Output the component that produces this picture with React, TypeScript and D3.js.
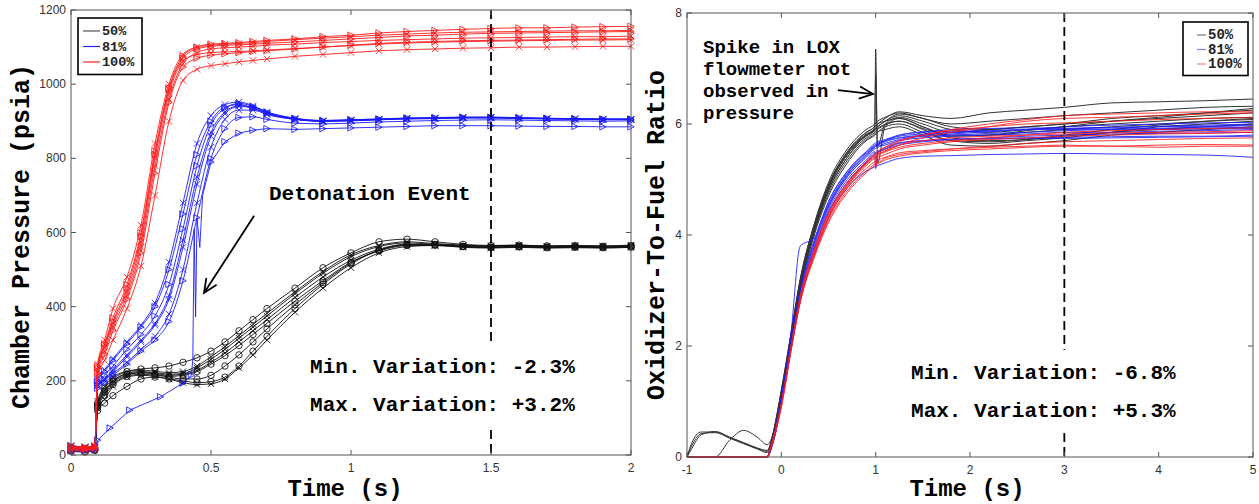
import React from 'react';
import * as d3 from 'd3';

// Left panel: chamber pressure (psia) against time (s), one row per hot-fire run
const pressTime = [0, 0.05, 0.085, 0.095, 0.12, 0.15, 0.2, 0.25, 0.3, 0.35, 0.4, 0.45, 0.5, 0.55, 0.6, 0.65, 0.7, 0.8, 0.9, 1.0, 1.1, 1.2, 1.3, 1.4, 1.5, 1.6, 1.7, 1.8, 1.9, 2.0];

const press50 = [
  [15, 12, 18, 130, 165, 195, 215, 222, 220, 215, 218, 228, 250, 275, 305, 335, 365, 425, 480, 525, 555, 568, 565, 562, 560, 562, 560, 561, 560, 562],
  [20, 18, 20, 140, 180, 205, 225, 232, 235, 240, 250, 262, 280, 305, 335, 365, 395, 450, 505, 545, 575, 582, 575, 568, 565, 566, 564, 565, 563, 565],
  [10, 8, 12, 120, 140, 160, 185, 205, 210, 205, 200, 195, 198, 210, 240, 280, 320, 395, 460, 515, 552, 568, 568, 562, 560, 561, 559, 560, 559, 560],
  [18, 15, 15, 125, 150, 185, 210, 215, 212, 205, 195, 190, 192, 205, 235, 270, 310, 385, 450, 505, 545, 562, 565, 560, 558, 560, 558, 559, 558, 560],
  [22, 20, 22, 135, 175, 200, 220, 225, 222, 218, 220, 235, 258, 285, 315, 345, 375, 435, 490, 535, 562, 572, 568, 565, 563, 565, 562, 563, 562, 564],
  [12, 10, 16, 128, 160, 190, 212, 218, 215, 212, 215, 225, 245, 268, 295, 325, 355, 415, 470, 520, 550, 565, 566, 563, 561, 563, 561, 562, 561, 563],
  [25, 22, 25, 145, 185, 210, 225, 228, 226, 222, 225, 240, 265, 292, 322, 352, 382, 440, 495, 540, 565, 575, 570, 566, 564, 566, 563, 565, 564, 566],
  [15, 14, 14, 132, 170, 198, 218, 222, 218, 210, 205, 205, 215, 240, 270, 305, 340, 405, 465, 518, 552, 566, 566, 562, 560, 562, 560, 561, 560, 562],
];
const press50Marks = ['x', 'o', 'o', 'x', 'x', 'o', 'x', 'o'];

const press81 = [
  [15, 18, 20, 185, 200, 225, 265, 305, 350, 420, 560, 730, 860, 920, 940, 935, 920, 905, 900, 902, 905, 908, 908, 910, 910, 908, 907, 906, 905, 905],
  [20, 15, 18, 195, 215, 240, 285, 325, 375, 460, 610, 780, 890, 935, 948, 940, 925, 908, 902, 904, 906, 909, 910, 911, 911, 910, 908, 907, 906, 906],
  [10, 12, 15, 190, 205, 220, 250, 285, 320, 380, 500, 680, 830, 905, 930, 930, 918, 905, 900, 901, 904, 906, 907, 909, 909, 907, 906, 905, 904, 904],
  [25, 20, 22, 200, 225, 255, 300, 345, 400, 500, 650, 810, 900, 938, 945, 935, 922, 906, 901, 903, 905, 907, 908, 910, 909, 908, 907, 906, 905, 905],
  [18, 16, 20, 188, 205, 230, 270, 310, 355, 430, 580, 750, 870, 925, 942, 938, 922, 906, 900, 902, 904, 907, 908, 909, 910, 909, 907, 906, 905, 905],
  [12, 14, 18, 180, 195, 215, 245, 280, 310, 360, 470, 640, 800, 880, 910, 912, 905, 895, 893, 895, 898, 900, 902, 903, 904, 903, 902, 901, 900, 901],
  [22, 20, 22, 205, 230, 260, 305, 350, 410, 520, 680, 840, 915, 945, 952, 942, 925, 908, 902, 904, 906, 908, 909, 911, 911, 909, 908, 907, 906, 906],
];
const press81Marks = ['x', '>', 'x', '>', 'x', '>', 'x'];

// the 81% run with the detonation event is sampled more densely
const detonationTime = [0, 0.05, 0.085, 0.095, 0.14, 0.21, 0.32, 0.4, 0.43, 0.435, 0.44, 0.445, 0.45, 0.46, 0.47, 0.5, 0.55, 0.6, 0.65, 0.7, 0.8, 0.9, 1.0, 1.1, 1.2, 1.3, 1.4, 1.5, 1.6, 1.7, 1.8, 1.9, 2.0];
const detonationPress = [15, 12, 15, 40, 73, 121, 157, 194, 215, 258, 610, 372, 640, 560, 700, 790, 845, 868, 876, 880, 878, 880, 882, 884, 886, 888, 888, 888, 887, 886, 886, 885, 885];

const press100 = [
  [20, 18, 22, 240, 300, 370, 460, 600, 820, 990, 1075, 1100, 1108, 1110, 1112, 1115, 1118, 1122, 1128, 1132, 1138, 1142, 1145, 1148, 1150, 1152, 1152, 1154, 1155, 1156],
  [15, 15, 18, 225, 280, 345, 430, 560, 780, 960, 1055, 1085, 1095, 1098, 1100, 1102, 1105, 1108, 1112, 1115, 1118, 1120, 1122, 1124, 1125, 1126, 1127, 1128, 1128, 1130],
  [22, 20, 20, 210, 255, 310, 395, 510, 700, 900, 1010, 1040, 1050, 1055, 1060, 1064, 1068, 1075, 1080, 1085, 1090, 1093, 1095, 1097, 1098, 1100, 1100, 1101, 1102, 1102],
  [18, 16, 20, 235, 295, 360, 450, 590, 810, 985, 1070, 1095, 1102, 1105, 1106, 1108, 1110, 1114, 1118, 1122, 1126, 1130, 1132, 1135, 1137, 1138, 1139, 1140, 1141, 1142],
  [12, 12, 15, 230, 290, 355, 440, 575, 800, 975, 1062, 1080, 1085, 1087, 1088, 1090, 1092, 1096, 1100, 1104, 1108, 1111, 1113, 1115, 1116, 1117, 1118, 1119, 1119, 1120],
  [25, 22, 25, 245, 310, 395, 480, 620, 840, 1000, 1080, 1100, 1105, 1108, 1110, 1112, 1115, 1120, 1124, 1128, 1132, 1135, 1138, 1140, 1141, 1142, 1143, 1144, 1144, 1145],
  [20, 20, 22, 220, 270, 335, 420, 545, 760, 950, 1045, 1070, 1078, 1082, 1085, 1088, 1090, 1095, 1100, 1105, 1110, 1113, 1115, 1117, 1118, 1119, 1120, 1121, 1122, 1122],
];
const press100Marks = ['>', 'x', 'x', '>', 'x', 'x', '>'];

const pressXTicks = [0, 0.5, 1, 1.5, 2];
const pressYTicks = [0, 200, 400, 600, 800, 1000, 1200];

// Right panel: oxidizer-to-fuel ratio against time (s)
const ofTime = [-1, -0.95, -0.85, -0.7, -0.55, -0.4, -0.25, -0.15, -0.1, 0, 0.1, 0.2, 0.35, 0.5, 0.7, 0.9, 0.99, 1.0, 1.02, 1.1, 1.25, 1.5, 1.8, 2.2, 2.6, 3.0, 3.5, 4.0, 4.5, 5.0];

const of50 = [
  [0, 0.25, 0.45, 0.45, 0.35, 0.25, 0.15, 0.1, 0.35, 1.2, 2.2, 3.2, 4.2, 4.9, 5.5, 5.85, 5.95, 5.97, 6.0, 6.1, 6.22, 6.15, 6.1, 6.2, 6.25, 6.3, 6.38, 6.4, 6.42, 6.45],
  [0, 0.2, 0.42, 0.44, 0.34, 0.24, 0.14, 0.08, 0.3, 1.1, 2.1, 3.1, 4.1, 4.8, 5.4, 5.8, 5.9, 5.92, 5.95, 6.05, 6.15, 6.05, 5.9, 5.85, 5.9, 5.95, 6.0, 6.05, 6.1, 6.12],
  [0, 0.15, 0.4, 0.46, 0.36, 0.26, 0.16, 0.12, 0.3, 1.0, 2.0, 3.0, 4.0, 4.7, 5.3, 5.7, 5.8, 5.82, 5.85, 5.95, 6.0, 5.85, 5.7, 5.65, 5.7, 5.75, 5.85, 5.9, 5.95, 6.0],
  [0, 0, 0, 0, 0.3, 0.48, 0.35, 0.22, 0.35, 1.1, 2.1, 3.1, 4.1, 4.85, 5.45, 5.8, 5.9, 5.92, 5.95, 6.05, 6.18, 6.1, 5.95, 5.9, 5.95, 6.0, 6.1, 6.15, 6.2, 6.25],
  [0, 0, 0, 0, 0, 0, 0, 0, 0.25, 1.1, 2.1, 3.1, 4.1, 4.85, 5.45, 5.8, 5.88, 7.35, 5.3, 5.95, 6.1, 5.95, 5.8, 5.8, 5.85, 5.9, 5.95, 6.0, 6.05, 6.08],
  [0, 0, 0, 0, 0, 0, 0, 0, 0.3, 1.15, 2.15, 3.15, 4.15, 4.9, 5.5, 5.85, 5.95, 5.97, 6.0, 6.05, 6.1, 5.95, 5.75, 5.7, 5.72, 5.78, 5.85, 5.95, 6.0, 6.05],
  [0, 0, 0, 0, 0, 0, 0, 0, 0.28, 1.05, 2.05, 3.05, 4.05, 4.75, 5.35, 5.72, 5.82, 5.84, 5.86, 5.9, 5.95, 5.8, 5.62, 5.6, 5.65, 5.7, 5.8, 5.85, 5.9, 5.95],
  [0, 0, 0, 0, 0, 0, 0, 0, 0.32, 1.2, 2.2, 3.2, 4.2, 4.95, 5.55, 5.9, 6.0, 6.02, 6.05, 6.12, 6.2, 6.1, 6.0, 6.05, 6.1, 6.15, 6.2, 6.25, 6.3, 6.32],
  [0, 0, 0, 0, 0, 0, 0, 0, 0.3, 1.12, 2.12, 3.12, 4.12, 4.88, 5.48, 5.82, 5.92, 6.9, 5.6, 6.0, 6.12, 6.0, 5.85, 5.9, 5.95, 6.0, 6.05, 6.1, 6.15, 6.2],
  [0, 0, 0, 0, 0, 0, 0, 0, 0.27, 1.05, 2.05, 3.05, 4.05, 4.8, 5.4, 5.75, 5.85, 5.87, 5.9, 5.98, 6.05, 5.9, 5.7, 5.68, 5.72, 5.8, 5.9, 5.98, 6.05, 6.1],
  [0, 0, 0, 0, 0, 0, 0, 0, 0.3, 1.15, 2.15, 3.15, 4.12, 4.85, 5.45, 5.78, 5.88, 5.9, 5.92, 6.0, 6.05, 5.92, 5.78, 5.8, 5.88, 5.95, 6.05, 6.12, 6.2, 6.28],
];

const of81 = [
  [0, 0, 0, 0, 0, 0, 0, 0, 0.2, 1.0, 2.0, 2.95, 3.85, 4.5, 5.05, 5.4, 5.55, 5.56, 5.58, 5.62, 5.7, 5.75, 5.78, 5.8, 5.82, 5.85, 5.85, 5.87, 5.88, 5.9],
  [0, 0, 0, 0, 0, 0, 0, 0, 0.18, 0.95, 1.9, 2.8, 3.65, 4.3, 4.85, 5.15, 5.23, 5.24, 5.25, 5.3, 5.38, 5.42, 5.43, 5.45, 5.46, 5.47, 5.46, 5.45, 5.44, 5.4],
  [0, 0, 0, 0, 0, 0, 0, 0, 0.22, 1.05, 2.05, 3.0, 3.9, 4.55, 5.1, 5.45, 5.6, 5.62, 5.64, 5.7, 5.78, 5.82, 5.85, 5.88, 5.9, 5.92, 5.93, 5.95, 5.96, 5.98],
  [0, 0, 0, 0, 0, 0, 0, 0, 0.2, 1.0, 2.0, 2.9, 3.8, 4.45, 5.0, 5.35, 5.5, 5.2, 5.5, 5.55, 5.62, 5.68, 5.72, 5.75, 5.78, 5.8, 5.82, 5.83, 5.84, 5.85],
  [0, 0, 0, 0, 0, 0, 0, 0, 0.25, 1.1, 2.2, 3.8, 3.95, 4.6, 5.15, 5.5, 5.65, 5.66, 5.68, 5.72, 5.8, 5.85, 5.87, 5.88, 5.9, 5.9, 5.91, 5.92, 5.93, 5.94],
  [0, 0, 0, 0, 0, 0, 0, 0, 0.2, 0.98, 1.95, 2.9, 3.75, 4.4, 4.95, 5.3, 5.45, 5.46, 5.48, 5.55, 5.65, 5.7, 5.72, 5.74, 5.75, 5.76, 5.77, 5.78, 5.78, 5.8],
  [0, 0, 0, 0, 0, 0, 0, 0, 0.22, 1.05, 2.05, 3.0, 3.9, 4.6, 5.15, 5.5, 5.62, 5.63, 5.65, 5.7, 5.75, 5.78, 5.8, 5.83, 5.85, 5.88, 5.9, 5.92, 5.95, 5.97],
  [0, 0, 0, 0, 0, 0, 0, 0, 0.2, 1.0, 2.0, 2.95, 3.85, 4.5, 5.05, 5.42, 5.58, 5.6, 5.6, 5.65, 5.72, 5.78, 5.82, 5.86, 5.9, 5.95, 5.98, 6.0, 6.02, 6.03],
  [0, 0, 0, 0, 0, 0, 0, 0, 0.21, 1.02, 2.02, 2.97, 3.88, 4.52, 5.08, 5.45, 5.6, 5.61, 5.62, 5.68, 5.75, 5.8, 5.84, 5.87, 5.9, 5.92, 5.94, 5.96, 5.98, 6.0],
  [0, 0, 0, 0, 0, 0, 0, 0, 0.19, 0.97, 1.95, 2.88, 3.75, 4.4, 4.95, 5.32, 5.48, 5.49, 5.5, 5.58, 5.66, 5.7, 5.72, 5.73, 5.74, 5.74, 5.75, 5.76, 5.77, 5.78],
  [0, 0, 0, 0, 0, 0, 0, 0, 0.23, 1.04, 2.05, 3.0, 3.9, 4.55, 5.12, 5.48, 5.6, 5.61, 5.63, 5.7, 5.8, 5.86, 5.9, 5.92, 5.93, 5.92, 5.9, 5.9, 5.91, 5.92],
];

const of100 = [
  [0, 0, 0, 0, 0, 0, 0, 0, 0.25, 0.95, 1.95, 2.85, 3.7, 4.35, 4.9, 5.3, 5.45, 5.46, 5.48, 5.55, 5.68, 5.8, 5.9, 6.0, 6.08, 6.15, 6.18, 6.2, 6.22, 6.22],
  [0, 0, 0, 0, 0, 0, 0, 0, 0.22, 0.9, 1.9, 2.8, 3.65, 4.3, 4.85, 5.2, 5.32, 5.33, 5.35, 5.4, 5.48, 5.52, 5.55, 5.58, 5.6, 5.62, 5.6, 5.62, 5.63, 5.62],
  [0, 0, 0, 0, 0, 0, 0, 0, 0.25, 0.95, 1.95, 2.85, 3.7, 4.35, 4.9, 5.28, 5.42, 5.2, 5.45, 5.5, 5.58, 5.65, 5.7, 5.75, 5.8, 5.85, 5.88, 5.9, 5.92, 5.93],
  [0, 0, 0, 0, 0, 0, 0, 0, 0.24, 0.93, 1.92, 2.82, 3.68, 4.32, 4.88, 5.25, 5.38, 5.39, 5.4, 5.45, 5.55, 5.62, 5.68, 5.72, 5.75, 5.78, 5.8, 5.82, 5.83, 5.85],
  [0, 0, 0, 0, 0, 0, 0, 0, 0.26, 0.97, 1.97, 2.9, 3.75, 4.4, 4.95, 5.32, 5.45, 5.46, 5.5, 5.58, 5.7, 5.8, 5.88, 5.95, 6.0, 6.02, 6.05, 6.08, 6.1, 6.12],
  [0, 0, 0, 0, 0, 0, 0, 0, 0.23, 0.92, 1.9, 2.8, 3.62, 4.25, 4.8, 5.15, 5.28, 5.29, 5.3, 5.38, 5.45, 5.5, 5.55, 5.6, 5.65, 5.68, 5.7, 5.72, 5.74, 5.75],
  [0, 0, 0, 0, 0, 0, 0, 0, 0.25, 0.96, 1.96, 2.88, 3.72, 4.38, 4.92, 5.3, 5.42, 5.43, 5.45, 5.52, 5.62, 5.7, 5.75, 5.78, 5.8, 5.82, 5.84, 5.85, 5.86, 5.88],
  [0, 0, 0, 0, 0, 0, 0, 0, 0.24, 0.94, 1.94, 2.84, 3.7, 4.34, 4.9, 5.28, 5.4, 5.41, 5.43, 5.5, 5.62, 5.75, 5.85, 5.95, 6.05, 6.1, 6.12, 6.15, 6.18, 6.2],
  [0, 0, 0, 0, 0, 0, 0, 0, 0.22, 0.9, 1.88, 2.78, 3.6, 4.22, 4.76, 5.12, 5.25, 5.26, 5.28, 5.35, 5.42, 5.48, 5.52, 5.55, 5.58, 5.6, 5.6, 5.58, 5.6, 5.6],
];

const ofXTicks = [-1, 0, 1, 2, 3, 4, 5];
const ofYTicks = [0, 2, 4, 6, 8];

const legendLabels = ['50%', '81%', '100%'];

const mono = "'Courier New', 'Liberation Mono', monospace";
const sans = "'Liberation Sans', Arial, Helvetica, sans-serif";
const lineColors = ['#111111', '#1a1aff', '#ff1a1a'];

type Scale = d3.ScaleLinear<number, number>;

function Marker({ kind, cx, cy, color }: { kind: string; cx: number; cy: number; color: string }) {
  const s = 3.2;
  if (kind === 'o') return <circle cx={cx} cy={cy} r={s} fill="none" stroke={color} strokeWidth={0.85} />;
  if (kind === 'x')
    return (
      <path
        d={`M${cx - s},${cy - s}L${cx + s},${cy + s}M${cx - s},${cy + s}L${cx + s},${cy - s}`}
        stroke={color}
        strokeWidth={0.85}
      />
    );
  return (
    <path d={`M${cx - s},${cy - s}L${cx + s},${cy}L${cx - s},${cy + s}Z`} fill="none" stroke={color} strokeWidth={0.85} />
  );
}

function Frame({ x, y, xTicks, yTicks }: { x: Scale; y: Scale; xTicks: number[]; yTicks: number[] }) {
  const [x0, x1] = x.range();
  const [y0, y1] = y.range();
  const c = '#555';
  return (
    <g>
      <rect x={x0} y={y1} width={x1 - x0} height={y0 - y1} fill="none" stroke={c} strokeWidth={1} />
      {xTicks.map((t) => (
        <g key={'x' + t}>
          <line x1={x(t)} x2={x(t)} y1={y0} y2={y0 - 5} stroke={c} />
          <line x1={x(t)} x2={x(t)} y1={y1} y2={y1 + 5} stroke={c} />
          <text x={x(t)} y={y0 + 17} textAnchor="middle" fontFamily={sans} fontSize={12} fill="#333">
            {t}
          </text>
        </g>
      ))}
      {yTicks.map((t) => (
        <g key={'y' + t}>
          <line x1={x0} x2={x0 + 5} y1={y(t)} y2={y(t)} stroke={c} />
          <line x1={x1} x2={x1 - 5} y1={y(t)} y2={y(t)} stroke={c} />
          <text x={x0 - 5} y={y(t) + 4} textAnchor="end" fontFamily={sans} fontSize={12} fill="#333">
            {t}
          </text>
        </g>
      ))}
    </g>
  );
}

function Legend({ left, top, width, rowGap, segment, colors, fontSize }: any) {
  return (
    <g>
      <rect x={left} y={top} width={width} height={rowGap * 3 + 10} fill="white" stroke="#000" strokeWidth={1.6} />
      {legendLabels.map((lab, i) => {
        const yy = top + 13 + i * rowGap;
        return (
          <g key={lab}>
            <line x1={left + segment[0]} x2={left + segment[1]} y1={yy} y2={yy} stroke={colors[i]} strokeWidth={1.2} />
            <text x={left + segment[1] + 2} y={yy + 4} fontFamily={mono} fontWeight="bold" fontSize={fontSize} fill="#222">
              {lab}
            </text>
          </g>
        );
      })}
    </g>
  );
}

function arrowPath(x1: number, y1: number, x2: number, y2: number) {
  const a = Math.atan2(y2 - y1, x2 - x1);
  const len = 15;
  const sp = 0.42;
  const w1 = [x2 - len * Math.cos(a - sp), y2 - len * Math.sin(a - sp)];
  const w2 = [x2 - len * Math.cos(a + sp), y2 - len * Math.sin(a + sp)];
  return `M${x1},${y1}L${x2},${y2}M${w1[0]},${w1[1]}L${x2},${y2}L${w2[0]},${w2[1]}`;
}

function PressurePanel() {
  const x = d3.scaleLinear().domain([0, 2]).range([71, 631]);
  const y = d3.scaleLinear().domain([0, 1200]).range([455, 10]);
  const line = (ts: number[]) =>
    d3
      .line<number>()
      .x((_, i) => x(ts[i]))
      .y((v) => y(v))
      .curve(d3.curveMonotoneX);

  const groups = [
    { runs: press50, marks: press50Marks, color: lineColors[0] },
    { runs: press81, marks: press81Marks, color: lineColors[1] },
    { runs: press100, marks: press100Marks, color: lineColors[2] },
  ];

  const drawRun = (ts: number[], vals: number[], mark: string, color: string, key: string) => (
    <g key={key}>
      <path d={line(ts)(vals) || ''} fill="none" stroke={color} strokeWidth={0.9} />
      {vals.map((v, i) => (
        <Marker key={i} kind={mark} cx={x(ts[i])} cy={y(v)} color={color} />
      ))}
    </g>
  );

  return (
    <g>
      {groups.map((g, gi) => (
        <g key={gi}>
          {g.runs.map((r, ri) => drawRun(pressTime, r, g.marks[ri], g.color, `${gi}-${ri}`))}
          {gi === 1 && (
            <g>
              <path
                d={d3.line<number>().x((_, i) => x(detonationTime[i])).y((v) => y(v))(detonationPress) || ''}
                fill="none"
                stroke={g.color}
                strokeWidth={0.9}
              />
              {detonationPress.map((v, i) =>
                i >= 9 && i <= 14 ? null : (
                  <Marker key={i} kind=">" cx={x(detonationTime[i])} cy={y(v)} color={g.color} />
                )
              )}
            </g>
          )}
        </g>
      ))}

      <line x1={x(1.5)} x2={x(1.5)} y1={y(1200)} y2={y(0)} stroke="#000" strokeWidth={1.8} strokeDasharray="9,5" />

      <text x={x(0.707)} y={y(688)} fontFamily={mono} fontWeight="bold" fontSize={21} fill="#000">
        Detonation Event
      </text>
      <path d={arrowPath(x(0.654), y(645), x(0.475), y(437))} fill="none" stroke="#000" strokeWidth={1.8} />

      <rect x={x(0.818)} y={y(296)} width={x(1.836) - x(0.818)} height={y(76) - y(296)} fill="white" />
      <text x={x(0.854)} y={y(221)} fontFamily={mono} fontWeight="bold" fontSize={21} fill="#000">
        Min. Variation: -2.3%
      </text>
      <text x={x(0.854)} y={y(119)} fontFamily={mono} fontWeight="bold" fontSize={21} fill="#000">
        Max. Variation: +3.2%
      </text>

      <Legend left={78} top={18} width={64} rowGap={15.5} segment={[5, 22]} colors={['#555', '#2222ff', '#ff2222']} fontSize={13.5} />

      <Frame x={x} y={y} xTicks={pressXTicks} yTicks={pressYTicks} />

      <text
        transform={`translate(22,${(y(0) + y(1200)) / 2 + 4}) rotate(-90)`}
        textAnchor="middle"
        dominantBaseline="central"
        fontFamily={mono}
        fontWeight="bold"
        fontSize={25}
      >
        Chamber Pressure (psia)
      </text>
      <text x={(x(0) + x(2)) / 2 - 6} y={496} textAnchor="middle" fontFamily={mono} fontWeight="bold" fontSize={24}>
        Time (s)
      </text>
    </g>
  );
}

function RatioPanel() {
  const x = d3.scaleLinear().domain([-1, 5]).range([687, 1253]);
  const y = d3.scaleLinear().domain([0, 8]).range([457, 13]);
  const line = d3
    .line<number>()
    .x((_, i) => x(ofTime[i]))
    .y((v) => y(v))
    .curve(d3.curveMonotoneX);

  const groups = [of50, of81, of100];

  return (
    <g>
      {groups.map((runs, gi) => (
        <g key={gi} opacity={0.85}>
          {runs.map((r, ri) => (
            <path key={ri} d={line(r) || ''} fill="none" stroke={lineColors[gi]} strokeWidth={1} />
          ))}
        </g>
      ))}

      <line x1={x(3)} x2={x(3)} y1={y(8)} y2={y(0)} stroke="#000" strokeWidth={1.8} strokeDasharray="9,5" />

      {['Spike in LOX', 'flowmeter not', 'observed in', 'pressure'].map((s, i) => (
        <text key={s} x={x(-0.83)} y={y(7.28) + i * 22} fontFamily={mono} fontWeight="bold" fontSize={19} fill="#000">
          {s}
        </text>
      ))}
      <path d={arrowPath(x(0.6), y(6.61), x(0.972), y(6.54))} fill="none" stroke="#000" strokeWidth={1.8} />

      <rect x={x(1.29)} y={y(1.93)} width={x(4.28) - x(1.29)} height={y(0.45) - y(1.93)} fill="white" />
      <text x={x(1.375)} y={y(1.405)} fontFamily={mono} fontWeight="bold" fontSize={21} fill="#000">
        Min. Variation: -6.8%
      </text>
      <text x={x(1.375)} y={y(0.72)} fontFamily={mono} fontWeight="bold" fontSize={21} fill="#000">
        Max. Variation: +5.3%
      </text>

      <Legend left={1183} top={22} width={65} rowGap={14.5} segment={[14, 23]} colors={['#777', '#8080ff', '#ff8080']} fontSize={14} />

      <Frame x={x} y={y} xTicks={ofXTicks} yTicks={ofYTicks} />

      <text
        transform={`translate(657,${(y(0) + y(8)) / 2}) rotate(-90)`}
        textAnchor="middle"
        dominantBaseline="central"
        fontFamily={mono}
        fontWeight="bold"
        fontSize={25}
      >
        Oxidizer-To-Fuel Ratio
      </text>
      <text x={967} y={496} textAnchor="middle" fontFamily={mono} fontWeight="bold" fontSize={24}>
        Time (s)
      </text>
    </g>
  );
}

export default function App() {
  return (
    <svg
      width={1259}
      height={504}
      viewBox="0 0 1259 504"
      style={{ position: 'absolute', left: 0, top: 0, background: '#fff' }}
    >
      <PressurePanel />
      <RatioPanel />
    </svg>
  );
}
